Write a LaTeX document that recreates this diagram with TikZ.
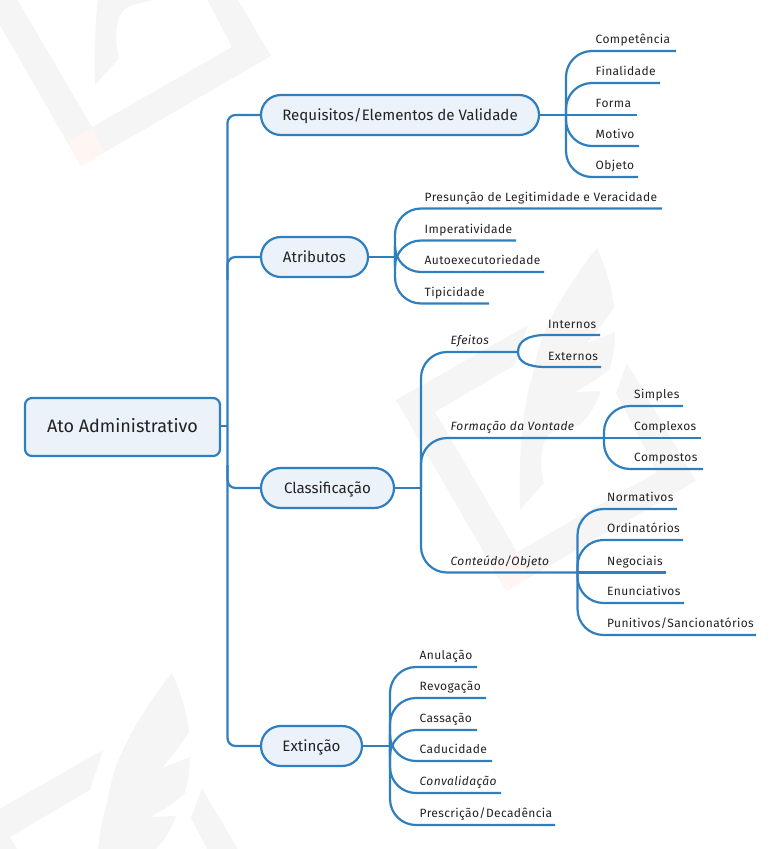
\documentclass[tikz,border=0pt]{standalone}
\usepackage{fontspec}
\setmainfont{Fira Sans}
\newfontfamily\lffont[LetterSpace=3.1]{Fira Sans}
\definecolor{wire}{HTML}{2F7FBE}
\definecolor{pale}{HTML}{EBF2FA}
\definecolor{ink}{HTML}{222222}
\definecolor{wmgray}{HTML}{F5F5F5}
\definecolor{wmred}{HTML}{FFF5F3}
\tikzset{
  conn/.style={draw=wire,line width=2.2pt,line cap=butt},
  rootbox/.style={draw=wire,fill=pale,line width=2.2pt,rounded corners=7pt,inner sep=0pt,text=ink,font=\fontsize{18}{20}\selectfont,text height=13pt,text depth=2.6pt},
  topic/.style={draw=wire,fill=pale,line width=2.2pt,rounded corners=19.9pt,inner sep=0pt,text=ink,minimum height=40pt,font=\fontsize{15.1}{18}\selectfont,text height=13pt,text depth=3pt},
  leaftext/.style={inner sep=0pt,text=ink,anchor=base west,font=\lffont\fontsize{12}{14}\selectfont},
  italictext/.style={leaftext,font=\lffont\fontsize{12}{14}\selectfont\itshape},
}
% name, spine x, start y, line y, text x, end x, text
\newcommand\curveleaf[8][leaftext]{%
  \node[#1] (#2) at (#6,#5-7.5) {#8};
  \coordinate (#2e) at (#7,#5);
  \draw[conn,rounded corners=26pt] (#3,#4) -- (#3,#5) -- (#2e);
}
% name, start coordinate, line y, text x, end x, text
\newcommand\straightleaf[7][leaftext]{%
  \node[#1] (#2) at (#5,#4-7.5) {#7};
  \coordinate (#2e) at (#6,#4);
  \draw[conn] (#3) -- (#2e);
}
\newcommand\logo[2]{%
  \begin{scope}[shift={(#1,#2)}]
    \fill[wmgray] (506,591) -- (396,400) -- (528,325) -- (515,365) -- (435,412) -- (517,552)
      -- (657,472) -- (616,393) -- (627,363) -- (696,481) -- cycle;
    \fill[wmred] (494,566) -- (517,552) -- (529,577) -- (506,591) -- cycle;
    \fill[wmgray] (597,248) .. controls (606,268) and (612,288) .. (614,307)
      .. controls (606,320) and (596,332) .. (587,343) -- (615,332)
      .. controls (615,345) and (613,357) .. (610,368)
      .. controls (600,378) and (588,385) .. (575,392) -- (601,391)
      .. controls (596,405) and (590,415) .. (580,425)
      .. controls (565,428) and (552,430) .. (547,437)
      .. controls (541,445) and (539,465) .. (544,483)
      -- (520,510) .. controls (519,480) and (520,450) .. (523,424)
      .. controls (525,405) and (528,390) .. (532,378)
      .. controls (535,362) and (538,350) .. (542,338)
      .. controls (548,325) and (552,315) .. (558,305)
      .. controls (570,285) and (585,262) .. (597,248) -- cycle;
  \end{scope}
}
\begin{document}
\begin{tikzpicture}[x=1pt,y=-1pt]
\useasboundingbox (0,0) rectangle (782,849);
\begin{scope}
  \clip (0,0) rectangle (782,849);
  \logo{0}{0}
  \logo{-425}{-425}
  \logo{-425}{425}
\end{scope}

% spine and root
\coordinate (sp0) at (227.5,426);
\coordinate (sp1) at (227.5,115);
\coordinate (sp4) at (227.5,746);
\node[rootbox,minimum width=195pt,minimum height=58pt] (root) at (122.5,427) {Ato Administrativo};
\node[topic,minimum width=278pt] (req) at (400,115) {Requisitos/Elementos de Validade};
\node[topic,minimum width=107pt] (atr) at (314.5,257) {Atributos};
\node[topic,minimum width=133pt] (cla) at (327.5,488) {Classificação};
\node[topic,minimum width=101pt] (ext) at (311.5,746) {Extinção};
\draw[conn] (root.east |- sp0) -- (sp0);
\draw[conn,rounded corners=8pt] (req.west) -- (sp1) -- (sp4) -- (ext.west);
\draw[conn,rounded corners=8pt] (atr.west) -- (227.5,257) -- (227.5,280);
\draw[conn,rounded corners=8pt] (cla.west) -- (227.5,488) -- (227.5,465);

% Requisitos
\curveleaf{comp}{566}{115}{51}{595.5}{676}{Competência}
\curveleaf{fina}{566}{115}{83}{595.5}{660}{Finalidade}
\straightleaf{form}{req.east}{115}{595.5}{637}{Forma}
\curveleaf{moti}{566}{115}{146}{595.5}{639}{Motivo}
\curveleaf{obje}{566}{115}{177}{595.5}{638}{Objeto}

% Atributos
\curveleaf{pres}{395}{257}{208.5}{424.5}{662}{Presunção de Legitimidade e Veracidade}
\curveleaf{impe}{395}{257}{240.5}{424.5}{516}{Imperatividade}
\curveleaf{auto}{395}{257}{272}{424.5}{544}{Autoexecutoriedade}
\curveleaf{tipi}{395}{257}{303.5}{424.5}{489}{Tipicidade}
\draw[conn] (atr.east) -- (395,257);

% Classificacao
\draw[conn] (cla.east) -- (421,488);
\curveleaf[italictext]{efei}{421}{488}{352}{450.5}{518}{Efeitos}
\curveleaf[italictext]{vont}{421}{488}{438}{450.5}{604}{Formação da Vontade}
\curveleaf[italictext]{cont}{421}{488}{572.5}{450.5}{577}{Conteúdo/Objeto}

\node[leaftext] (inte) at (548,328) {Internos};
\node[leaftext] (exte) at (548,360) {Externos};
\coordinate (intee) at (600,335);
\coordinate (extee) at (601,367);
\draw[conn] (efeie) .. controls (518,341) and (528,335) .. (546,335) -- (intee);
\draw[conn] (efeie) .. controls (518,362) and (528,367) .. (546,367) -- (extee);

\curveleaf{simp}{604}{438}{406}{634}{683}{Simples}
\straightleaf{cple}{vonte}{438}{634}{701}{Complexos}
\curveleaf{cpos}{604}{438}{469}{634}{703}{Compostos}

\curveleaf{norm}{577.5}{572.5}{509}{607}{677}{Normativos}
\curveleaf{ordi}{577.5}{572.5}{540}{607}{683}{Ordinatórios}
\straightleaf{nego}{conte}{572.5}{607}{666}{Negociais}
\curveleaf{enun}{577.5}{572.5}{603}{607}{684}{Enunciativos}
\curveleaf{puni}{577.5}{572.5}{635}{607}{756}{Punitivos/Sancionatórios}

% Extincao
\draw[conn] (ext.east) -- (390,746);
\curveleaf{anul}{390}{746}{667}{419.5}{477}{Anulação}
\curveleaf{revo}{390}{746}{698}{419.5}{486}{Revogação}
\curveleaf{cass}{390}{746}{730}{419.5}{477}{Cassação}
\curveleaf{cadu}{390}{746}{761}{419.5}{492}{Caducidade}
\curveleaf[italictext]{conv}{390}{746}{793}{419.5}{501}{Convalidação}
\curveleaf{pred}{390}{746}{825}{419.5}{555}{Prescrição/Decadência}
\end{tikzpicture}
\end{document}
